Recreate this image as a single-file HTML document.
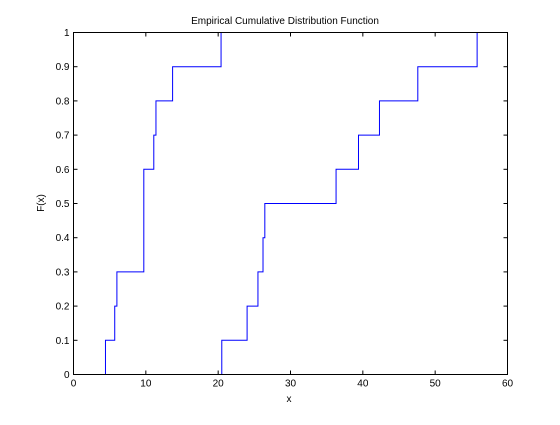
<!DOCTYPE html>
<html><head><meta charset="utf-8"><style>
body{margin:0;background:#fff;}
svg text{font-family:"Liberation Sans",sans-serif;font-size:10px;fill:#000;}
</style></head><body>
<svg id="chart" width="560" height="420">
<rect width="560" height="420" fill="#fff"/>
<text x="285" y="24" text-anchor="middle" font-size="10.5">Empirical Cumulative Distribution Function</text>
<text x="289" y="402" text-anchor="middle">x</text>
<text transform="translate(44,203) rotate(-90)" text-anchor="middle">F(x)</text>
<g id="ticks"></g>
<g id="series"></g>
<rect x="73.5" y="32.5" width="434" height="342" fill="none" stroke="#000" stroke-width="1"/>
</svg>
<script>
const xTicks=[0,10,20,30,40,50,60];
const yTicks=[0,0.1,0.2,0.3,0.4,0.5,0.6,0.7,0.8,0.9,1];
const yTickLabels=["0","0.1","0.2","0.3","0.4","0.5","0.6","0.7","0.8","0.9","1"];
const sample1=[4.42,5.7,6.0,9.72,9.72,9.72,11.1,11.4,13.7,20.4];
const sample2=[20.5,24.0,25.5,26.2,26.45,36.3,39.4,42.3,47.6,55.8];
const L=73.5,R=507.5,T=32.5,B=374.5;
const sx=v=>L+(v-0)/(60-0)*(R-L);
const sy=v=>B-(v-0)/(1-0)*(B-T);
const NS='http://www.w3.org/2000/svg';
const tg=document.getElementById('ticks');
function mk(tag,attrs,parent){const e=document.createElementNS(NS,tag);for(const k in attrs)e.setAttribute(k,attrs[k]);parent.appendChild(e);return e;}
xTicks.forEach(v=>{
 const x=sx(v);
 const t1=mk('line',{x1:x,x2:x,y1:B,y2:B-4,stroke:'#000'},tg);
 
 
 const t2=mk('line',{x1:x,x2:x,y1:T,y2:T+4,stroke:'#000'},tg);
 
 
 const lb=mk('text',{x:x,y:B+12,'text-anchor':'middle'},tg);
 lb.textContent=v;
 
 
});
yTicks.forEach((v,i)=>{
 const y=sy(v);
 const t1=mk('line',{x1:L,x2:L+4,y1:y,y2:y,stroke:'#000'},tg);
 
 
 const t2=mk('line',{x1:R,x2:R-4,y1:y,y2:y,stroke:'#000'},tg);
 
 
 const lb=mk('text',{x:L-4,y:y+3.5,'text-anchor':'end'},tg);
 lb.textContent=yTickLabels[i];
 
 
});
const sg=document.getElementById('series');
function ecdfPath(data){
 const s=data.slice().sort((a,b)=>a-b);const n=s.length;
 let d='M'+sx(s[0])+','+sy(0);
 let i=0;
 while(i<n){
  let j=i;while(j<n&&s[j]===s[i])j++;
  d+=' L'+sx(s[i])+','+sy(j/n);
  if(j<n)d+=' L'+sx(s[j])+','+sy(j/n);
  i=j;
 }
 return d;
}
const p1=mk('path',{d:ecdfPath(sample1),fill:'none',stroke:'#0000ff','stroke-width':1},sg);


const p2=mk('path',{d:ecdfPath(sample2),fill:'none',stroke:'#0000ff','stroke-width':1},sg);


</script>
</body></html>
